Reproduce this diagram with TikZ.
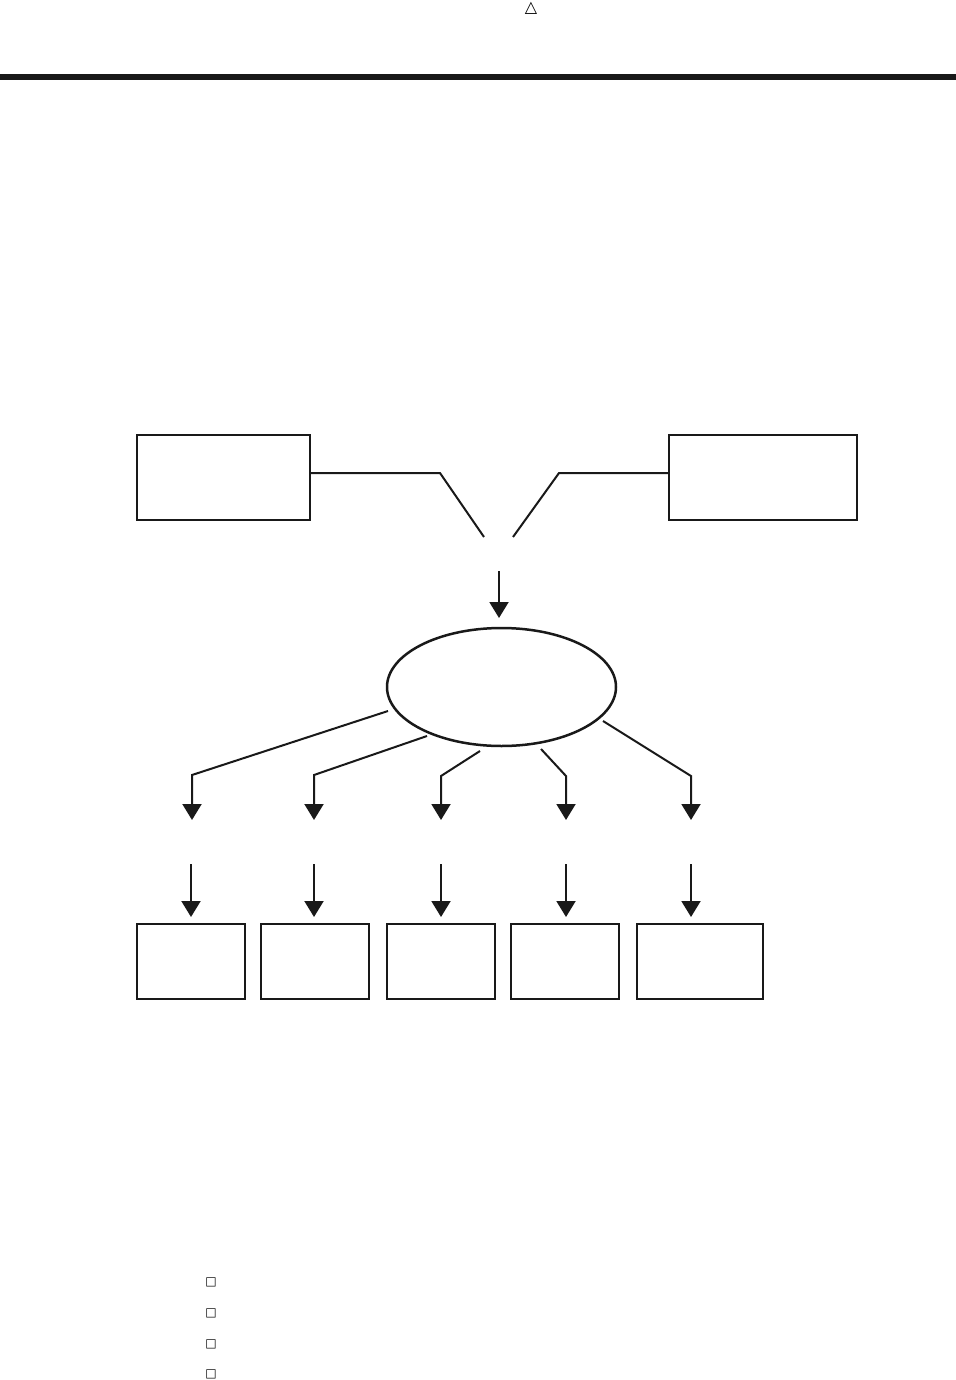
\documentclass[tikz,border=0pt]{standalone}
\usepackage{fontspec}
\newfontfamily\symfont{DejaVu Sans}
\usetikzlibrary{arrows.meta,shapes.geometric}
\tikzset{
  box/.style={draw=black!90, line width=1.25pt, inner sep=0pt, outer sep=0pt, fill=white},
  conn/.style={draw=black!90, line width=1pt},
  arr/.style={conn, -{Triangle[width=9.5pt,length=8pt]}},
  mark sym/.style={inner sep=0pt, font=\symfont\fontsize{6}{6}\selectfont}
}
\begin{document}
\begin{tikzpicture}[x=0.5pt,y=-0.5pt]
\useasboundingbox (0,0) rectangle (956,1380);
% top symbol and rule
\node[inner sep=0pt, font=\symfont\fontsize{8}{8}\selectfont] (tri) at (531,8) {△};
\fill[black!90] (0,74) rectangle (956,80);
% top boxes
\node[box, minimum width=86.5pt, minimum height=42.5pt] (L) at (223.5,477.5) {};
\node[box, minimum width=94pt, minimum height=42.5pt] (R) at (763,477.5) {};
\coordinate (Lk) at (440,473);
\coordinate (Le) at (484,537);
\coordinate (Rk) at (559,473);
\coordinate (Re) at (513,537);
\draw[conn] (L.east |- Lk) -- (Lk) -- (Le);
\draw[conn] (R.west |- Rk) -- (Rk) -- (Re);
% ellipse
\node[ellipse, box, minimum width=114.5pt, minimum height=59pt] (E) at (501.5,687) {};
\coordinate (a0) at (499,571);
\draw[arr, shorten >=5pt] (a0) -- (a0 |- E.north);
% branches
\coordinate (s1) at (388,711); \coordinate (k1) at (192,775); \coordinate (t1) at (192,820);
\coordinate (s2) at (427,736); \coordinate (k2) at (314,775); \coordinate (t2) at (314,820);
\coordinate (s3) at (480,751); \coordinate (k3) at (441,776); \coordinate (t3) at (441,820);
\coordinate (s4) at (541,749); \coordinate (k4) at (566,776); \coordinate (t4) at (566,820);
\coordinate (s5) at (603,721); \coordinate (k5) at (691,776); \coordinate (t5) at (691,820);
\foreach \i in {1,...,5} {\draw[arr] (s\i) -- (k\i) -- (t\i);}
% bottom boxes
\node[box, minimum width=54pt, minimum height=37.5pt] (B1) at (191,961.5) {};
\node[box, minimum width=54pt, minimum height=37.5pt] (B2) at (315,961.5) {};
\node[box, minimum width=54pt, minimum height=37.5pt] (B3) at (441,961.5) {};
\node[box, minimum width=54pt, minimum height=37.5pt] (B4) at (565,961.5) {};
\node[box, minimum width=63pt, minimum height=37.5pt] (B5) at (700,961.5) {};
\coordinate (u1) at (191,864);
\coordinate (u2) at (314,864);
\coordinate (u3) at (441,864);
\coordinate (u4) at (566,864);
\coordinate (u5) at (691,864);
\foreach \i in {1,...,5} {\draw[arr, shorten >=3.5pt] (u\i) -- (u\i |- B\i.north);}
% small squares
\node[mark sym] (q1) at (211,1282) {□};
\node[mark sym] (q2) at (211,1313) {□};
\node[mark sym] (q3) at (211,1344) {□};
\node[mark sym] (q4) at (211,1374) {□};
\end{tikzpicture}
\end{document}
